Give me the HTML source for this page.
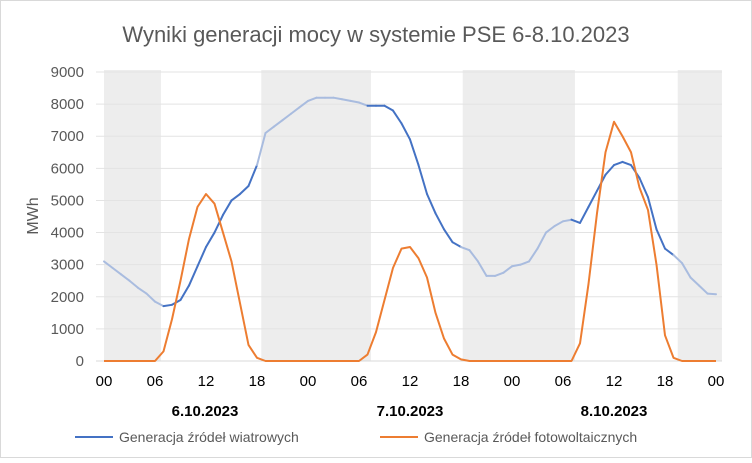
<!DOCTYPE html>
<html><head><meta charset="utf-8"><style>
body{margin:0;background:#fff;font-family:"Liberation Sans",sans-serif}
svg text{font-family:"Liberation Sans",sans-serif}
</style></head><body>
<svg id="c" width="752" height="458" viewBox="0 0 752 458">
<rect x="0.5" y="0.5" width="751" height="457" fill="#fff" stroke="#d9d9d9"/>
<text x="376" y="42" text-anchor="middle" font-size="22" fill="#595959">Wyniki generacji mocy w systemie PSE 6-8.10.2023</text>
<g id="shade"></g><g id="grid"></g><g id="ylab"></g><g id="xlab"></g><g id="series"></g>
<text x="38" y="216" text-anchor="middle" font-size="16" fill="#595959" transform="rotate(-90 38 216)">MWh</text>
<text x="205" y="416" text-anchor="middle" font-size="15" font-weight="bold" fill="#000">6.10.2023</text>
<text x="410" y="416" text-anchor="middle" font-size="15" font-weight="bold" fill="#000">7.10.2023</text>
<text x="614" y="416" text-anchor="middle" font-size="15" font-weight="bold" fill="#000">8.10.2023</text>
<g><line x1="75" y1="437" x2="113" y2="437" stroke="#4472c4" stroke-width="2"/><text x="119" y="442" font-size="14" fill="#595959">Generacja źródeł wiatrowych</text></g>
<g><line x1="380" y1="437" x2="418" y2="437" stroke="#ed7d31" stroke-width="2"/><text x="424" y="442" font-size="14" fill="#595959">Generacja źródeł fotowoltaicznych</text></g>
</svg>
<script>
const yTicks=[0,1000,2000,3000,4000,5000,6000,7000,8000,9000];
const xTickLabels=["00","06","12","18","00","06","12","18","00","06","12","18","00"];
const nightRanges=[[0,6.7],[18.5,31.4],[42.2,55.4],[67.5,72.7]];
const wind=[3100,2900,2700,2500,2280,2100,1850,1710,1750,1900,2350,2950,3550,4000,4550,5000,5200,5450,6100,7100,7300,7500,7700,7900,8100,8200,8200,8200,8150,8100,8050,7950,7950,7950,7800,7400,6900,6100,5200,4600,4100,3700,3550,3450,3100,2650,2650,2750,2950,3000,3100,3500,4000,4200,4350,4400,4300,4800,5300,5800,6100,6200,6100,5700,5100,4100,3500,3300,3050,2600,2350,2100,2080];
const solar=[0,0,0,0,0,0,0,300,1300,2500,3800,4800,5200,4900,4000,3100,1800,500,100,0,0,0,0,0,0,0,0,0,0,0,0,200,900,1900,2900,3500,3550,3200,2600,1500,700,200,50,0,0,0,0,0,0,0,0,0,0,0,0,0,550,2400,4600,6500,7450,7000,6500,5400,4700,3000,800,100,0,0,0,0,0];
const NS="http://www.w3.org/2000/svg";
const X=h=>104+h*8.5, Y=v=>361-v*(289/9000);
function mk(t,a,p){const e=document.createElementNS(NS,t);for(const k in a)e.setAttribute(k,a[k]);document.getElementById(p).appendChild(e);return e;}
nightRanges.forEach((r,i)=>{const e=mk('rect',{x:X(r[0]),y:70,width:X(r[1])-X(r[0]),height:291,fill:'#ededed'},'shade');

});
yTicks.forEach(v=>{const l=mk('line',{x1:96,x2:722,y1:Y(v),y2:Y(v),stroke:v?'#e3e3e3':'#d9d9d9'},'grid');


const t=mk('text',{x:84,y:Y(v)+5,'text-anchor':'end','font-size':15,fill:'#595959'},'ylab');t.textContent=v;

});
xTickLabels.forEach((s,i)=>{const t=mk('text',{x:X(i*6),y:386,'text-anchor':'middle','font-size':15,fill:'#000'},'xlab');t.textContent=s;

});
const isNight=h=>nightRanges.some(r=>h>=r[0]&&h<=r[1]);
for(let i=0;i<wind.length-1;i++){const m=i+0.5;
const l=mk('line',{x1:X(i),y1:Y(wind[i]),x2:X(i+1),y2:Y(wind[i+1]),stroke:isNight(m)?'#a9bcdf':'#4472c4','stroke-width':2,'stroke-linecap':'round'},'series');

}
const p=mk('polyline',{points:solar.map((v,i)=>X(i)+','+Y(v)).join(' '),fill:'none',stroke:'#ed7d31','stroke-width':2,'stroke-linejoin':'round'},'series');


</script>
</body></html>
